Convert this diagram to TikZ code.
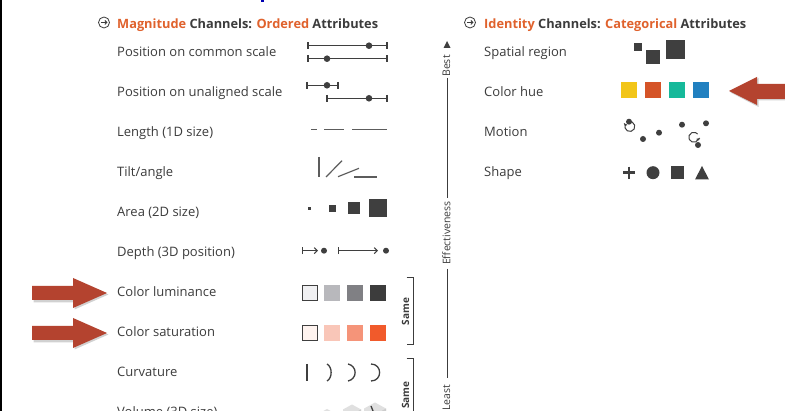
\documentclass[tikz,border=0pt]{standalone}
\usepackage{fontspec}
\setmainfont{Open Sans}
\usetikzlibrary{arrows.meta}
\definecolor{txt}{HTML}{3C3C3C}
\definecolor{org}{HTML}{E0622D}
\definecolor{glyph}{HTML}{3F3F3F}
\definecolor{arr}{HTML}{B4432F}
\definecolor{lum1}{HTML}{F0F0F2}
\definecolor{lum2}{HTML}{B8B8BC}
\definecolor{lum3}{HTML}{808084}
\definecolor{lum4}{HTML}{3C3C3C}
\definecolor{sat1}{HTML}{FEF3EF}
\definecolor{sat2}{HTML}{F9C6B8}
\definecolor{sat3}{HTML}{F59479}
\definecolor{sat4}{HTML}{F15A2B}
\definecolor{hueY}{HTML}{F2C518}
\definecolor{hueO}{HTML}{D55427}
\definecolor{hueG}{HTML}{16B99A}
\definecolor{hueB}{HTML}{2180C0}
\begin{document}
\begin{tikzpicture}[x=1pt,y=-1pt,
  lbl/.style={anchor=base west,text=txt,font=\fontsize{13}{15}\selectfont,inner sep=0pt},
  hdr/.style={anchor=base west,text=txt,font=\fontsize{12.8}{15}\selectfont\bfseries,inner sep=0pt},
  axl/.style={text=txt,font=\fontsize{10.5}{12}\selectfont,inner sep=0pt,rotate=90},
  same/.style={text=txt,font=\fontsize{10}{12}\selectfont\bfseries,inner sep=0pt,rotate=90},
  gl/.style={draw=glyph,line width=1.2pt},
  dot/.style={fill=glyph},
  sq/.style={fill=glyph},
  bigarrow/.style={fill=arr},
  shadowarrow/.style={fill=black,opacity=0.18},
  brk/.style={draw=txt,line width=1pt}
]
\useasboundingbox (0,0) rectangle (785,411);
\clip (0,0) rectangle (785,411);
\fill[white] (0,0) rectangle (785,411);
\draw[black,line width=1.5pt] (0.75,0) -- (0.75,411);
% tiny blue fragment at top
\fill[blue!70!black] (261,0) rectangle (263.5,2.5);

% ---------- headers ----------
\draw[txt,line width=0.8pt] (104,22.5) circle[radius=5.5];
\draw[txt,line width=0.9pt,-{Straight Barb[length=2pt,width=4pt]}] (100.8,22.5) -- (107.5,22.5);
\node[hdr] (h1) at (117,28.3) {\textcolor{org}{Magnitude} Channels: \textcolor{org}{Ordered} Attributes};
\draw[txt,line width=0.8pt] (470,22.5) circle[radius=5.5];
\draw[txt,line width=0.9pt,-{Straight Barb[length=2pt,width=4pt]}] (466.8,22.5) -- (473.5,22.5);
\node[hdr] (h2) at (484,28.3) {\textcolor{org}{Identity} Channels: \textcolor{org}{Categorical} Attributes};

% ---------- left labels ----------
\node[lbl] (l1) at (117,56.5) {Position on common scale};
\node[lbl] (l2) at (117,96.5) {Position on unaligned scale};
\node[lbl] (l3) at (117,136.5) {Length (1D size)};
\node[lbl] (l4) at (117,176.5) {Tilt/angle};
\node[lbl] (l5) at (117,216.5) {Area (2D size)};
\node[lbl] (l6) at (117,256.5) {Depth (3D position)};
\node[lbl] (l7) at (117,296.5) {Color luminance};
\node[lbl] (l8) at (117,336.5) {Color saturation};
\node[lbl] (l9) at (117,376.5) {Curvature};
\node[lbl] (l10) at (117,416.5) {Volume (3D size)};

% ---------- right labels ----------
\node[lbl] (r1) at (484,56.5) {Spatial region};
\node[lbl] (r2) at (484,96.5) {Color hue};
\node[lbl] (r3) at (484,136.5) {Motion};
\node[lbl] (r4) at (484,176.5) {Shape};

% ---------- position glyphs ----------
\foreach \ya/\xa/\xb/\xd in {45.7/308/387/369, 58.7/308/387/327, 85.3/307/338/327, 98.3/327/387/369}{
  \draw[gl,line width=1.1pt] (\xa,\ya) -- (\xb,\ya);
  \draw[gl,line width=1.1pt] (\xa,\ya-3.5) -- (\xa,\ya+3.5);
  \draw[gl,line width=1.1pt] (\xb,\ya-3.5) -- (\xb,\ya+3.5);
  \fill[dot] (\xd,\ya) circle[radius=3.3];
}

% ---------- length ----------
\draw[gl,draw=glyph!85] (311,129.7) -- (317,129.7);
\draw[gl,draw=glyph!85] (324,129.7) -- (344,129.7);
\draw[gl,draw=glyph!85] (352,129.7) -- (387,129.7);

% ---------- tilt ----------
\draw[gl,draw=glyph!85] (319,157) -- (319,177);
\draw[gl,draw=glyph!85] (326,177) -- (342,160.7);
\draw[gl,draw=glyph!85] (338,176.7) -- (359,168.3);
\draw[gl,draw=glyph!85] (354,177) -- (377,177);

% ---------- area ----------
\fill[sq] (308,206.8) rectangle +(3,3);
\fill[sq] (328.5,204.8) rectangle +(7,7);
\fill[sq] (348,202.3) rectangle +(12,12);
\fill[sq] (369,199.3) rectangle +(18,18);

% ---------- depth ----------
\draw[gl,line width=1.1pt,{Bar[width=7pt]}-{Straight Barb[length=3pt,width=6pt]}] (302,250.7) -- (318,250.7);
\fill[dot] (324,250.7) circle[radius=3];
\draw[gl,line width=1.1pt,{Bar[width=7pt]}-{Straight Barb[length=3pt,width=6pt]}] (338,250.7) -- (378,250.7);
\fill[dot] (386,250.7) circle[radius=3];

% ---------- luminance ----------
\filldraw[fill=lum1,draw=glyph,line width=1pt] (302.5,285.5) rectangle (317.5,300.5);
\fill[lum2] (324,285) rectangle +(16,16);
\fill[lum3] (347,285) rectangle +(16,16);
\fill[lum4] (370,285) rectangle +(16,16);

% ---------- saturation ----------
\filldraw[fill=sat1,draw=glyph,line width=1pt] (302.5,325.5) rectangle (317.5,340.5);
\fill[sat2] (324,325) rectangle +(16,16);
\fill[sat3] (347,325) rectangle +(16,16);
\fill[sat4] (370,325) rectangle +(16,16);

% ---------- curvature ----------
\draw[gl,line width=1.3pt] (307,364) -- (307,381);
\draw[gl,line width=1.3pt] (327,364) .. controls (332.5,367) and (332.5,378) .. (327,381);
\draw[gl,line width=1.3pt] (348,364) .. controls (357.5,366) and (357.5,379) .. (348,381);
\draw[gl,line width=1.3pt] (371,364) .. controls (382.5,364) and (382.5,381) .. (371,381);

% ---------- volume (cut off) ----------
\foreach \cx/\ty/\s in {327/409/6, 352/404.5/9, 375/402.5/11}{
  \fill[black!12] (\cx,\ty) -- (\cx+\s,\ty+0.55*\s) -- (\cx+\s,\ty+1.7*\s) -- (\cx,\ty+2.25*\s) -- (\cx-\s,\ty+1.7*\s) -- (\cx-\s,\ty+0.55*\s) -- cycle;
  \fill[black!20] (\cx,\ty+1.1*\s) -- (\cx+\s,\ty+0.55*\s) -- (\cx+\s,\ty+1.7*\s) -- (\cx,\ty+2.25*\s) -- cycle;
}
\draw[glyph,line width=1.3pt] (371,406) -- (373,411);

% ---------- same brackets ----------
\draw[brk] (406.5,278) -- (413,278) -- (413,345) -- (406.5,345);
\node[same] (s1) at (405.5,311.5) {Same};
\draw[brk] (406.5,359) -- (413,359) -- (413,420);
\node[same] (s2) at (405.5,395) {Same};

% ---------- effectiveness axis ----------
\fill[glyph] (443.5,48) -- (450.5,48) -- (447,41) -- cycle;
\node[axl] (best) at (446.5,66) {Best};
\node[axl] (eff) at (446.5,233) {Effectiveness};
\node[axl] (least) at (446.5,398) {Least};
\draw[txt,line width=0.9pt] (447.5,78) -- (447.5,198);
\draw[txt,line width=0.9pt] (447.5,269) -- (447.5,378);

% ---------- spatial region ----------
\fill[sq] (634,43) rectangle +(8.3,8.3);
\fill[sq] (646,50) rectangle +(14,14);
\fill[sq] (666,40) rectangle +(19,19);

% ---------- color hue ----------
\fill[hueY] (621,81.7) rectangle +(16,16);
\fill[hueO] (645,81.7) rectangle +(16,16);
\fill[hueG] (669,81.7) rectangle +(16,16);
\fill[hueB] (693,81.7) rectangle +(16,16);

% ---------- motion ----------
\draw[glyph,line width=1pt] (625.5,124) arc[start angle=210,end angle=-120,radius=5];
\draw[glyph,line width=1pt,-{Straight Barb[length=1.5pt,width=3pt]}] (625.5,124.5) -- (624.8,126);
\fill[dot] (629,121.7) circle[radius=3];
\fill[dot] (643,139) circle[radius=3];
\fill[dot] (659,132.7) circle[radius=3];
\fill[dot] (682,124.7) circle[radius=3];
\fill[dot] (706,123.3) circle[radius=3];
\draw[glyph,line width=1pt] (698.5,139) arc[start angle=20,end angle=320,radius=5];
\draw[glyph,line width=1pt,-{Straight Barb[length=1.5pt,width=3pt]}] (698.2,138.5) -- (698.8,140.5);
\fill[dot] (698,145) circle[radius=3];

% ---------- shape ----------
\draw[glyph,line width=2.6pt] (623,172.7) -- (635,172.7);
\draw[glyph,line width=2.6pt] (629,166.7) -- (629,178.7);
\fill[dot] (653,172.7) circle[radius=6.5];
\fill[sq] (670.5,166.2) rectangle +(13,13);
\fill[glyph] (695,179.5) -- (709,179.5) -- (702,166) -- cycle;

% ---------- big arrows ----------
\foreach \yy in {293,333}{
  \fill[shadowarrow] (33.5,\yy-5.5) -- (74.5,\yy-5.5) -- (74.5,\yy-14) -- (108.5,\yy+1.5) -- (74.5,\yy+16.5) -- (74.5,\yy+9.5) -- (33.5,\yy+9.5) -- cycle;
  \fill[bigarrow] (32,\yy-7) -- (73,\yy-7) -- (73,\yy-15) -- (107,\yy) -- (73,\yy+15) -- (73,\yy+7) -- (32,\yy+7) -- cycle;
}
\fill[shadowarrow] (786,85.5) -- (758.5,85.5) -- (758.5,78) -- (730.5,92.5) -- (758.5,107) -- (758.5,100.5) -- (786,100.5) -- cycle;
\fill[bigarrow] (786,84) -- (757,84) -- (757,77) -- (729,91) -- (757,105) -- (757,99) -- (786,99) -- cycle;
\end{tikzpicture}
\end{document}
